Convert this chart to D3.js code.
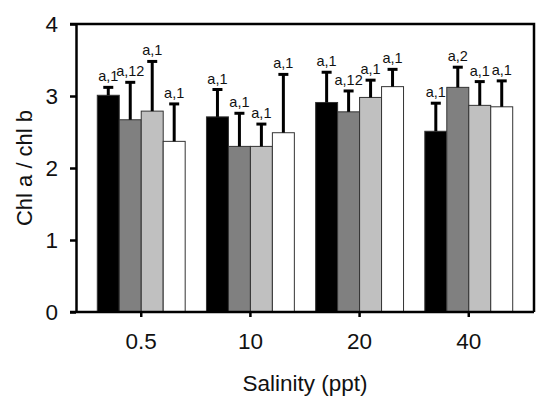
<!DOCTYPE html>
<html>
<head>
<meta charset="utf-8">
<script src="https://cdn.jsdelivr.net/npm/d3@7"></script>
<style>
  html, body { margin: 0; padding: 0; background: #fff; }
  svg { display: block; }
  text { font-family: "Liberation Sans", Arial, sans-serif; fill: #111; }
</style>
</head>
<body>
<svg id="chart" width="542" height="401"></svg>
<script>
// Salinity treatments on the x axis
const salinities = ["0.5", "10", "20", "40"];
// Four treatment series per salinity, drawn black → white
const seriesNames = ["s1", "s2", "s3", "s4"];
const seriesFill = ["#000000", "#808080", "#c0c0c0", "#ffffff"];

// Mean Chl a / chl b ratio, one array per series (order follows salinities)
const meanS1 = [3.01, 2.71, 2.91, 2.51];
const meanS2 = [2.67, 2.30, 2.78, 3.12];
const meanS3 = [2.79, 2.30, 2.98, 2.87];
const meanS4 = [2.37, 2.49, 3.13, 2.85];

// Upper error (SD) per bar
const errS1 = [0.11, 0.38, 0.42, 0.39];
const errS2 = [0.52, 0.46, 0.29, 0.28];
const errS3 = [0.69, 0.31, 0.24, 0.33];
const errS4 = [0.52, 0.81, 0.24, 0.36];

// Significance letters above each bar
const labS1 = ["a,1", "a,1", "a,1", "a,1"];
const labS2 = ["a,12", "a,1", "a,12", "a,2"];
const labS3 = ["a,1", "a,1", "a,1", "a,1"];
const labS4 = ["a,1", "a,1", "a,1", "a,1"];

const yTicks = [0, 1, 2, 3, 4];

const means = [meanS1, meanS2, meanS3, meanS4];
const errs = [errS1, errS2, errS3, errS4];
const labs = [labS1, labS2, labS3, labS4];

const rows = [];
salinities.forEach((sal, i) => {
  seriesNames.forEach((s, k) => {
    rows.push({ sal, s, k, v: means[k][i], e: errs[k][i], lab: labs[k][i] });
  });
});

const svg = d3.select("#chart");
const plot = { left: 76, right: 534, top: 24, bottom: 312 };

const x = d3.scaleBand()
  .domain(salinities)
  .range([plot.left, plot.right])
  .paddingInner(0.195)
  .paddingOuter(0.195);

const xs = d3.scaleBand()
  .domain(seriesNames)
  .range([0, x.bandwidth()]);

const y = d3.scaleLinear()
  .domain([0, 4])
  .range([plot.bottom, plot.top]);

// Bars
svg.append("g")
  .selectAll("rect")
  .data(rows)
  .join("rect")
  .attr("x", d => x(d.sal) + xs(d.s))
  .attr("y", d => y(d.v))
  .attr("width", xs.bandwidth())
  .attr("height", d => y(0) - y(d.v))
  .attr("fill", d => seriesFill[d.k])
  .attr("stroke", "#333")
  .attr("stroke-width", 1);

// Upper error bars
const eb = svg.append("g").attr("stroke", "#000").attr("stroke-width", 3);
rows.forEach(d => {
  const cx = x(d.sal) + xs(d.s) + xs.bandwidth() / 2;
  eb.append("line")
    .attr("x1", cx).attr("x2", cx)
    .attr("y1", y(d.v)).attr("y2", y(d.v + d.e));
  eb.append("line")
    .attr("x1", cx - 5).attr("x2", cx + 5)
    .attr("y1", y(d.v + d.e)).attr("y2", y(d.v + d.e));
});

// Significance labels
svg.append("g")
  .selectAll("text")
  .data(rows)
  .join("text")
  .attr("x", d => x(d.sal) + xs(d.s) + xs.bandwidth() / 2)
  .attr("y", d => y(d.v + d.e) - 6)
  .attr("text-anchor", "middle")
  .attr("font-size", 14.5)
  .text(d => d.lab);

// Frame: top and right edges
svg.append("path")
  .attr("d", `M${plot.left - 6},${plot.top}H${plot.right}V${plot.bottom}`)
  .attr("fill", "none")
  .attr("stroke", "#000")
  .attr("stroke-width", 2.5);

// Y axis
const yAxis = svg.append("g")
  .attr("transform", `translate(${plot.left},0)`)
  .call(d3.axisLeft(y).tickValues(yTicks).tickFormat(d3.format("d"))
    .tickSize(6).tickSizeOuter(0).tickPadding(12));
yAxis.select(".domain").attr("stroke-width", 2.5);
yAxis.selectAll(".tick line").attr("stroke-width", 2.5);
yAxis.selectAll("text").attr("font-size", 22.5).attr("fill", "#111");

// X axis
const xAxis = svg.append("g")
  .attr("transform", `translate(0,${plot.bottom})`)
  .call(d3.axisBottom(x).tickSize(5).tickSizeOuter(0).tickPadding(16));
xAxis.select(".domain").attr("stroke-width", 2.5)
  .attr("d", `M${plot.left - 6},0H${plot.right}`);
xAxis.selectAll(".tick line").attr("stroke-width", 2.5);
xAxis.selectAll("text").attr("font-size", 22.5).attr("fill", "#111");

// Axis titles
svg.append("text")
  .attr("x", (plot.left + plot.right) / 2)
  .attr("y", 391)
  .attr("text-anchor", "middle")
  .attr("font-size", 22.5)
  .text("Salinity (ppt)");

svg.append("text")
  .attr("transform", `translate(32,${(plot.top + plot.bottom) / 2}) rotate(-90)`)
  .attr("text-anchor", "middle")
  .attr("font-size", 22)
  .text("Chl a / chl b");
</script>
</body>
</html>
